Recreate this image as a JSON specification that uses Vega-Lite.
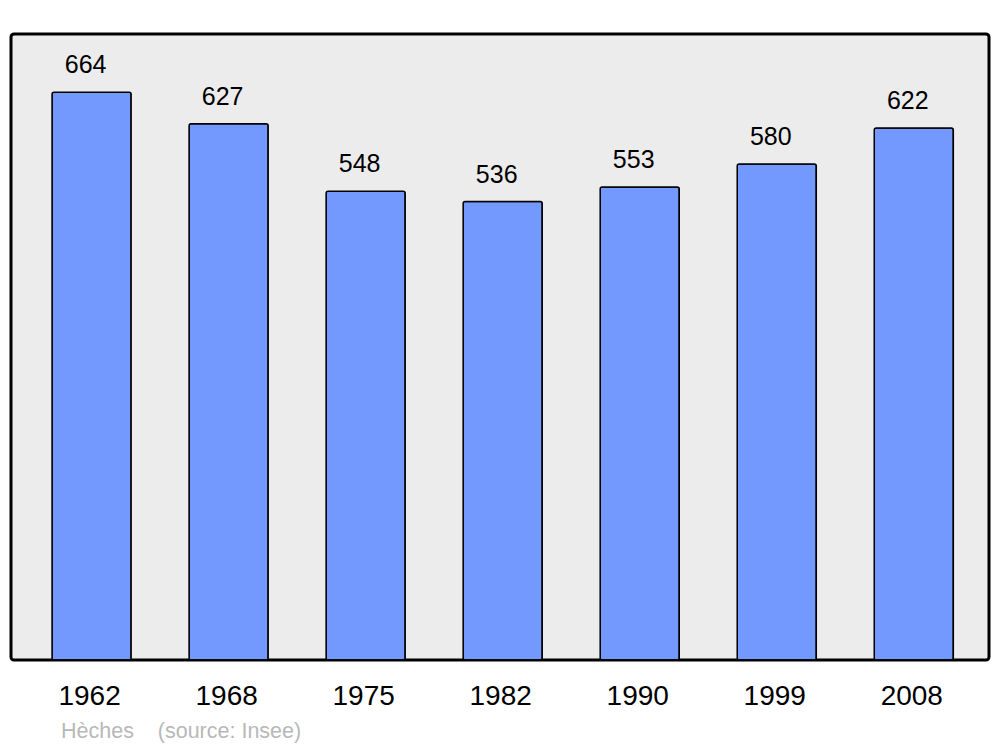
{
  "$schema": "https://vega.github.io/schema/vega-lite/v6.json",
  "width": 978,
  "height": 626,
  "autosize": {"type": "none"},
  "padding": {"left": 11, "top": 34, "right": 11, "bottom": 87},
  "background": "white",
  "config": {
    "font": "Liberation Sans",
    "view": {"fill": "#ececec", "stroke": "black", "strokeWidth": 3, "cornerRadius": 3}
  },
  "title": {
    "text": "Hèches\u00a0\u00a0\u00a0\u00a0(source: Insee)",
    "orient": "bottom",
    "anchor": "start",
    "dx": 50,
    "offset": 11,
    "fontSize": 21.5,
    "fontWeight": "normal",
    "color": "#b8b8b8",
    "font": "Liberation Sans"
  },
  "data": {
    "values": [
      {"year": "1962", "pop": 664},
      {"year": "1968", "pop": 627},
      {"year": "1975", "pop": 548},
      {"year": "1982", "pop": 536},
      {"year": "1990", "pop": 553},
      {"year": "1999", "pop": 580},
      {"year": "2008", "pop": 622}
    ]
  },
  "encoding": {
    "x": {
      "field": "year",
      "type": "nominal",
      "sort": null,
      "scale": {"paddingInner": 0.423, "paddingOuter": 0.28, "align": 0.535},
      "axis": {"title": null, "ticks": false, "domain": false, "labelAngle": 0, "labelFontSize": 28, "labelColor": "black", "labelPadding": 22, "labelOffset": -2}
    },
    "y": {
      "field": "pop",
      "type": "quantitative",
      "scale": {"domain": [0, 732]},
      "axis": null
    }
  },
  "layer": [
    {
      "mark": {"type": "bar", "fill": "#7399ff", "stroke": "black", "strokeWidth": 1.5, "cornerRadius": 2}
    },
    {
      "mark": {"type": "text", "baseline": "bottom", "dy": -14, "dx": -6, "fontSize": 25, "color": "black"},
      "encoding": {"text": {"field": "pop", "type": "quantitative"}}
    }
  ]
}
